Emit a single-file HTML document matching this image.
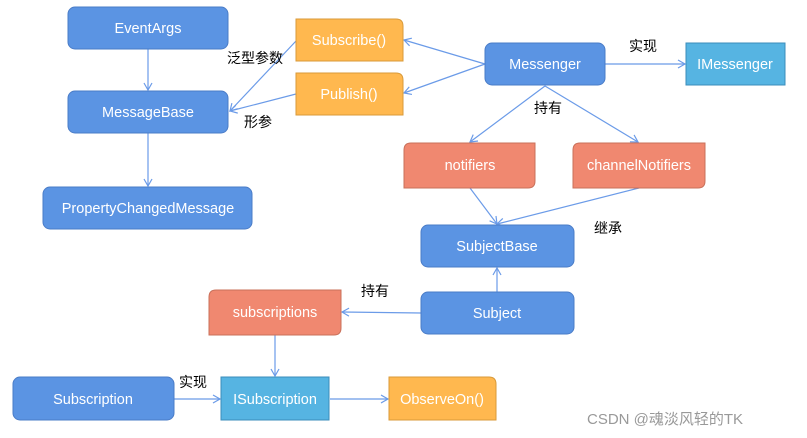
<!DOCTYPE html>
<html><head><meta charset="utf-8"><style>
html,body{margin:0;padding:0;background:#fff;width:807px;height:438px;overflow:hidden}
svg text{font-family:"Liberation Sans","Noto Sans CJK SC",sans-serif}
</style></head><body>
<svg width="807" height="438" xmlns="http://www.w3.org/2000/svg">
<defs><marker id="a" markerWidth="10" markerHeight="10" refX="8" refY="5" orient="auto" markerUnits="userSpaceOnUse"><path d="M1,1 L8,5 L1,9" fill="none" stroke="#6b9be8" stroke-width="1.2"/></marker></defs>
<g stroke="#6b9be8" stroke-width="1.2" fill="none" marker-end="url(#a)">
<line x1="148" y1="49" x2="148" y2="90"/>
<line x1="148" y1="133" x2="148" y2="186"/>
<line x1="296" y1="41" x2="230" y2="111"/>
<line x1="296" y1="94" x2="230" y2="111"/>
<line x1="485" y1="64" x2="404" y2="40"/>
<line x1="485" y1="64" x2="404" y2="93"/>
<line x1="605" y1="64" x2="685" y2="64"/>
<line x1="545" y1="86" x2="470" y2="142"/>
<line x1="545" y1="86" x2="638" y2="142"/>
<line x1="470" y1="188" x2="497" y2="224"/>
<line x1="639" y1="188" x2="497" y2="224"/>
<line x1="497" y1="292" x2="497" y2="268"/>
<line x1="421" y1="313" x2="342" y2="312"/>
<line x1="275" y1="335" x2="275" y2="376"/>
<line x1="174" y1="399" x2="220" y2="399"/>
<line x1="330" y1="399" x2="388" y2="399"/>
</g>
<g stroke="#4a7cc7" stroke-width="1" fill="#5b94e3">
<rect x="68" y="7" width="160" height="42" rx="7"/>
<rect x="68" y="91" width="160" height="42" rx="7"/>
<rect x="43" y="187" width="209" height="42" rx="7"/>
<rect x="485" y="43" width="120" height="42" rx="7"/>
<rect x="421" y="225" width="153" height="42" rx="7"/>
<rect x="421" y="292" width="153" height="42" rx="7"/>
<rect x="13" y="377" width="161" height="43" rx="7"/>
</g>
<g stroke="#3b8dbb" stroke-width="1" fill="#56b4e2">
<rect x="686" y="43" width="99" height="42"/>
<rect x="221" y="377" width="108" height="43"/>
</g>
<g stroke="#d89a3a" stroke-width="1" fill="#ffb84f">
<path d="M296,19 H396 Q403,19 403,26 V61 H296 Z"/>
<path d="M296,73 H396 Q403,73 403,80 V115 H296 Z"/>
<path d="M389,377 H489 Q496,377 496,384 V420 H389 Z"/>
</g>
<g stroke="#c9705a" stroke-width="1" fill="#f08870">
<path d="M411,143 H535 V181 Q535,188 528,188 H404 V150 Q404,143 411,143 Z"/>
<path d="M580,143 H705 V181 Q705,188 698,188 H573 V150 Q573,143 580,143 Z"/>
<path d="M216,290 H341 V328 Q341,335 334,335 H209 V297 Q209,290 216,290 Z"/>
</g>
<g fill="#fff" font-size="14.5" text-anchor="middle">
<text x="148" y="33">EventArgs</text>
<text x="148" y="117">MessageBase</text>
<text x="148" y="213">PropertyChangedMessage</text>
<text x="349" y="45">Subscribe()</text>
<text x="349" y="99">Publish()</text>
<text x="545" y="69">Messenger</text>
<text x="735" y="69">IMessenger</text>
<text x="470" y="170">notifiers</text>
<text x="639" y="170">channelNotifiers</text>
<text x="497" y="251">SubjectBase</text>
<text x="497" y="318">Subject</text>
<text x="275" y="317">subscriptions</text>
<text x="93" y="404">Subscription</text>
<text x="275" y="404">ISubscription</text>
<text x="442" y="404">ObserveOn()</text>
</g>
<g fill="#000" font-size="14">
<text x="227" y="63">泛型参数</text>
<text x="244" y="127">形参</text>
<text x="629" y="51">实现</text>
<text x="534" y="113">持有</text>
<text x="594" y="233">继承</text>
<text x="361" y="296">持有</text>
<text x="179" y="387">实现</text>
</g>
<text x="587" y="424" fill="#999" font-size="15">CSDN @魂淡风轻的TK</text>
</svg>
</body></html>
